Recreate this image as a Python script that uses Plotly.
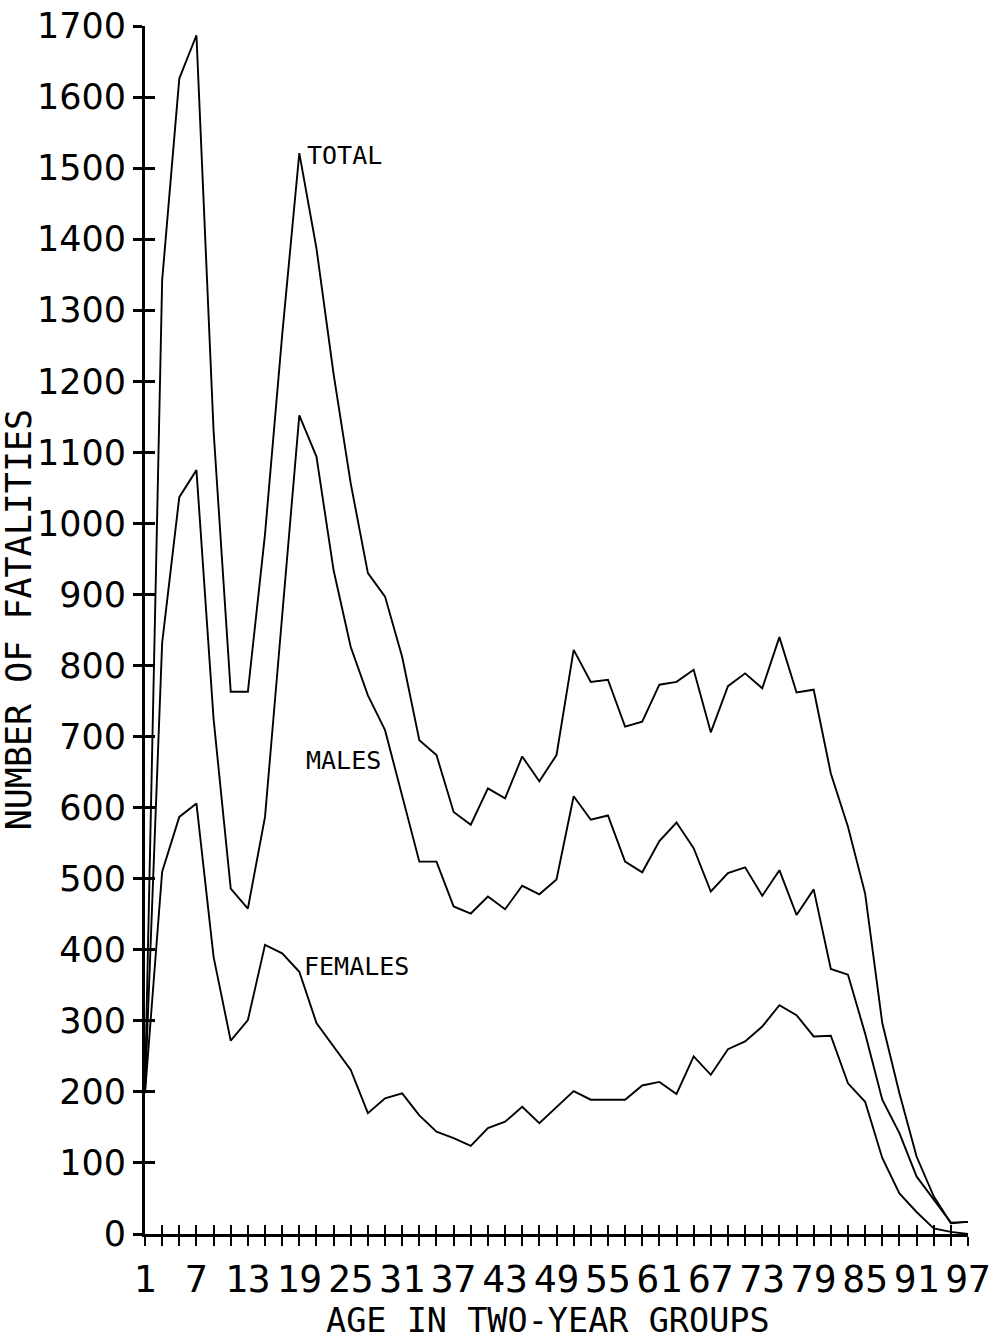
import plotly.graph_objects as go

# Age groups (two-year groups, labelled by first year of age)
ages = list(range(1, 98, 2))

total = [205, 1342, 1626, 1687, 1130, 763, 763, 985, 1265, 1521,
         1387, 1210, 1056, 930, 897, 812, 695, 674, 594, 576,
         627, 613, 672, 637, 674, 822, 777, 780, 714, 721,
         773, 777, 794, 706, 771, 789, 768, 840, 762, 766,
         648, 573, 479, 297, 198, 109, 53, 15, 17]

males = [200, 832, 1037, 1075, 725, 486, 458, 587, 870, 1152,
         1094, 934, 826, 758, 709, 615, 524, 524, 461, 451,
         475, 457, 490, 478, 499, 616, 583, 589, 524, 509,
         553, 579, 543, 482, 508, 516, 476, 512, 449, 485,
         373, 365, 282, 189, 142, 81, 48, 16, 17]

females = [198, 510, 587, 606, 390, 272, 301, 407, 395, 369,
           297, 264, 231, 170, 191, 198, 167, 144, 135, 124,
           149, 158, 179, 156, 179, 201, 189, 189, 189, 209,
           214, 197, 250, 224, 260, 271, 292, 322, 308, 278,
           279, 212, 186, 107, 57, 31, 8, 3, 0]

series = [("TOTAL", total, 19.7, 1518),
          ("MALES", males, 19.5, 666),
          ("FEMALES", females, 19.3, 377)]

x_ticks = ages
x_labels = [str(a) if (a - 1) % 6 == 0 else "" for a in ages]
y_ticks = list(range(0, 1701, 100))
y_labels = [str(v) for v in y_ticks]

MONO = "DejaVu Sans Mono"
SANS = "DejaVu Sans"
INK = "black"

fig = go.Figure()
for name, vals, lx, ly in series:
    fig.add_trace(go.Scatter(x=ages, y=vals, mode="lines", name=name,
                             line=dict(color=INK, width=1.9),
                             showlegend=False, hoverinfo="x+y"))
    fig.add_annotation(x=lx, y=ly, text=name, showarrow=False,
                       xanchor="left", yanchor="middle",
                       font=dict(family=MONO, size=25, color=INK))

# Anchor trace so the overlaid tick-only axes are drawn
fig.add_trace(go.Scatter(x=[1], y=[0], xaxis="x2", yaxis="y2", mode="markers",
                         marker=dict(opacity=0), showlegend=False,
                         hoverinfo="skip"))

fig.update_layout(
    width=995, height=1342,
    margin=dict(l=145, r=27, t=26, b=108),
    paper_bgcolor="white", plot_bgcolor="white",
    xaxis=dict(range=[1, 97], tickmode="array", tickvals=x_ticks,
               ticktext=x_labels, ticks="outside", ticklen=9, tickwidth=2,
               tickcolor=INK, showline=True, linewidth=3, linecolor=INK,
               showgrid=False, zeroline=False, automargin=False,
               tickfont=dict(family=MONO, size=38, color=INK)),
    yaxis=dict(range=[0, 1700], tickmode="array", tickvals=y_ticks,
               ticktext=y_labels, ticks="outside", ticklen=9, tickwidth=2.5,
               tickcolor=INK, showline=True, linewidth=3, linecolor=INK,
               showgrid=False, zeroline=False, automargin=False,
               tickfont=dict(family=SANS, size=35, color=INK)),
    xaxis2=dict(range=[1, 97], tickmode="array", tickvals=x_ticks,
                overlaying="x", anchor="y", side="bottom",
                ticks="inside", ticklen=9, tickwidth=2, tickcolor=INK,
                showticklabels=False, showline=False, showgrid=False,
                zeroline=False),
    yaxis2=dict(range=[0, 1700], tickmode="array", tickvals=y_ticks,
                overlaying="y", anchor="x", side="left",
                ticks="inside", ticklen=10, tickwidth=2.5, tickcolor=INK,
                showticklabels=False, showline=False, showgrid=False,
                zeroline=False),
)

# Axis titles placed in paper coordinates
fig.add_annotation(text="AGE IN TWO-YEAR GROUPS", xref="paper", yref="paper",
                   x=0.49, y=0, yshift=-86, xanchor="center", yanchor="middle",
                   showarrow=False, font=dict(family=MONO, size=33.5, color=INK))
fig.add_annotation(text="NUMBER OF FATALITIES", xref="paper", yref="paper",
                   x=0, xshift=-126, y=0.508, xanchor="center", yanchor="middle",
                   textangle=-90, showarrow=False,
                   font=dict(family=MONO, size=35, color=INK))

fig.write_html("out.html")
